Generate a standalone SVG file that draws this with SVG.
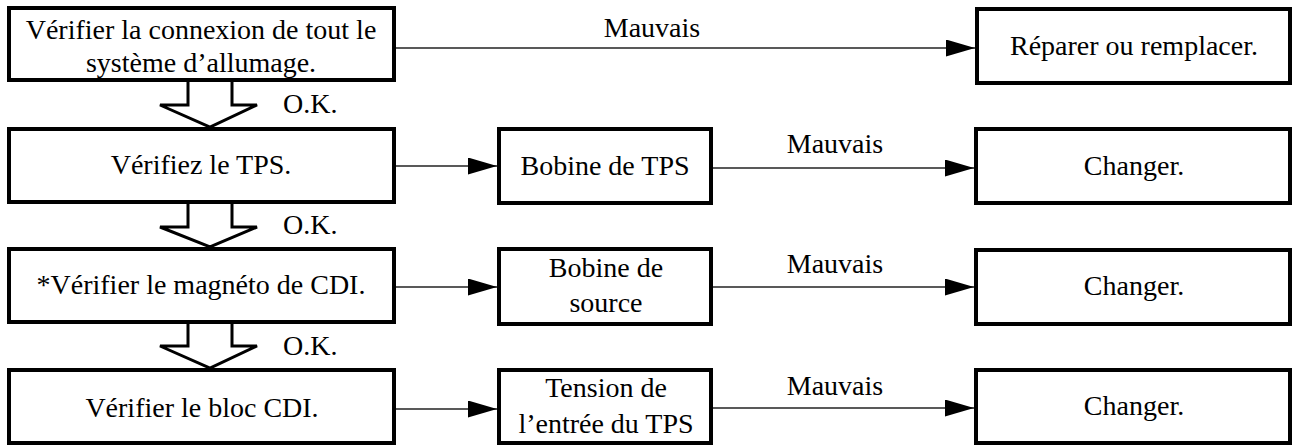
<svg xmlns="http://www.w3.org/2000/svg" width="1292" height="445" viewBox="0 0 1292 445">
<style>
.box{fill:#fff;stroke:#000;stroke-width:4}
.t{font-family:"Liberation Serif","Times New Roman",serif;font-size:28px;fill:#000;text-anchor:middle}
.ok{font-family:"Liberation Serif","Times New Roman",serif;font-size:28px;fill:#000}
.ln{stroke:#222;stroke-width:1.6;fill:none}
.big{fill:#fff;stroke:#000;stroke-width:3;stroke-linejoin:miter}
</style>
<defs>
<marker id="ah" markerUnits="userSpaceOnUse" markerWidth="30" markerHeight="18" refX="29" refY="8.5" orient="auto">
<polygon points="0,0 29,8.5 0,17" fill="#000"/>
</marker>
</defs>
<g id="flow-arrows">
<polyline class="big" points="188,82 188,105 160,105 210,127 257,105 232,105 232,82"/>
<polyline class="big" points="188,204 188,227 160,227 210,247 257,227 232,227 232,204"/>
<polyline class="big" points="188,324 188,346 160,346 210,368 257,346 232,346 232,324"/>
<text class="ok" x="283" y="113">O.K.</text>
<text class="ok" x="283" y="234">O.K.</text>
<text class="ok" x="283" y="355">O.K.</text>
</g>
<g id="connectors">
<line class="ln" x1="396" y1="48" x2="975" y2="48" marker-end="url(#ah)"/>
<text class="t" x="652" y="37">Mauvais</text>
<line class="ln" x1="396" y1="166" x2="497" y2="166" marker-end="url(#ah)"/>
<line class="ln" x1="713" y1="168" x2="974" y2="168" marker-end="url(#ah)"/>
<text class="t" x="835" y="153">Mauvais</text>
<line class="ln" x1="396" y1="287" x2="497" y2="287" marker-end="url(#ah)"/>
<line class="ln" x1="713" y1="287" x2="974" y2="287" marker-end="url(#ah)"/>
<text class="t" x="835" y="273">Mauvais</text>
<line class="ln" x1="396" y1="409" x2="497" y2="409" marker-end="url(#ah)"/>
<line class="ln" x1="713" y1="408" x2="974" y2="408" marker-end="url(#ah)"/>
<text class="t" x="835" y="395">Mauvais</text>
</g>
<g id="check-connexion">
<rect class="box" x="9" y="8" width="385" height="72"/>
<text class="t" x="201" y="39">Vérifier la connexion de tout le</text>
<text class="t" x="201" y="72">système d’allumage.</text>
</g>
<g id="reparer">
<rect class="box" x="977" y="9" width="313" height="74"/>
<text class="t" x="1134" y="55">Réparer ou remplacer.</text>
</g>
<g id="check-tps">
<rect class="box" x="9" y="129" width="385" height="73"/>
<text class="t" x="201" y="174">Vérifiez le TPS.</text>
</g>
<g id="bobine-tps">
<rect class="box" x="499" y="129" width="212" height="74"/>
<text class="t" x="605" y="175">Bobine de TPS</text>
</g>
<g id="changer-1">
<rect class="box" x="976" y="129" width="314" height="74"/>
<text class="t" x="1134" y="175">Changer.</text>
</g>
<g id="check-magneto">
<rect class="box" x="9" y="249" width="385" height="73"/>
<text class="t" x="201" y="294">*Vérifier le magnéto de CDI.</text>
</g>
<g id="bobine-source">
<rect class="box" x="499" y="249" width="212" height="75"/>
<text class="t" x="606" y="277">Bobine de</text>
<text class="t" x="606" y="312">source</text>
</g>
<g id="changer-2">
<rect class="box" x="976" y="250" width="314" height="74"/>
<text class="t" x="1134" y="295">Changer.</text>
</g>
<g id="check-cdi">
<rect class="box" x="9" y="370" width="385" height="73"/>
<text class="t" x="202" y="417">Vérifier le bloc CDI.</text>
</g>
<g id="tension-tps">
<rect class="box" x="499" y="370" width="212" height="73"/>
<text class="t" x="606" y="397">Tension de</text>
<text class="t" x="606" y="433">l’entrée du TPS</text>
</g>
<g id="changer-3">
<rect class="box" x="976" y="370" width="314" height="73"/>
<text class="t" x="1134" y="415">Changer.</text>
</g>
</svg>
